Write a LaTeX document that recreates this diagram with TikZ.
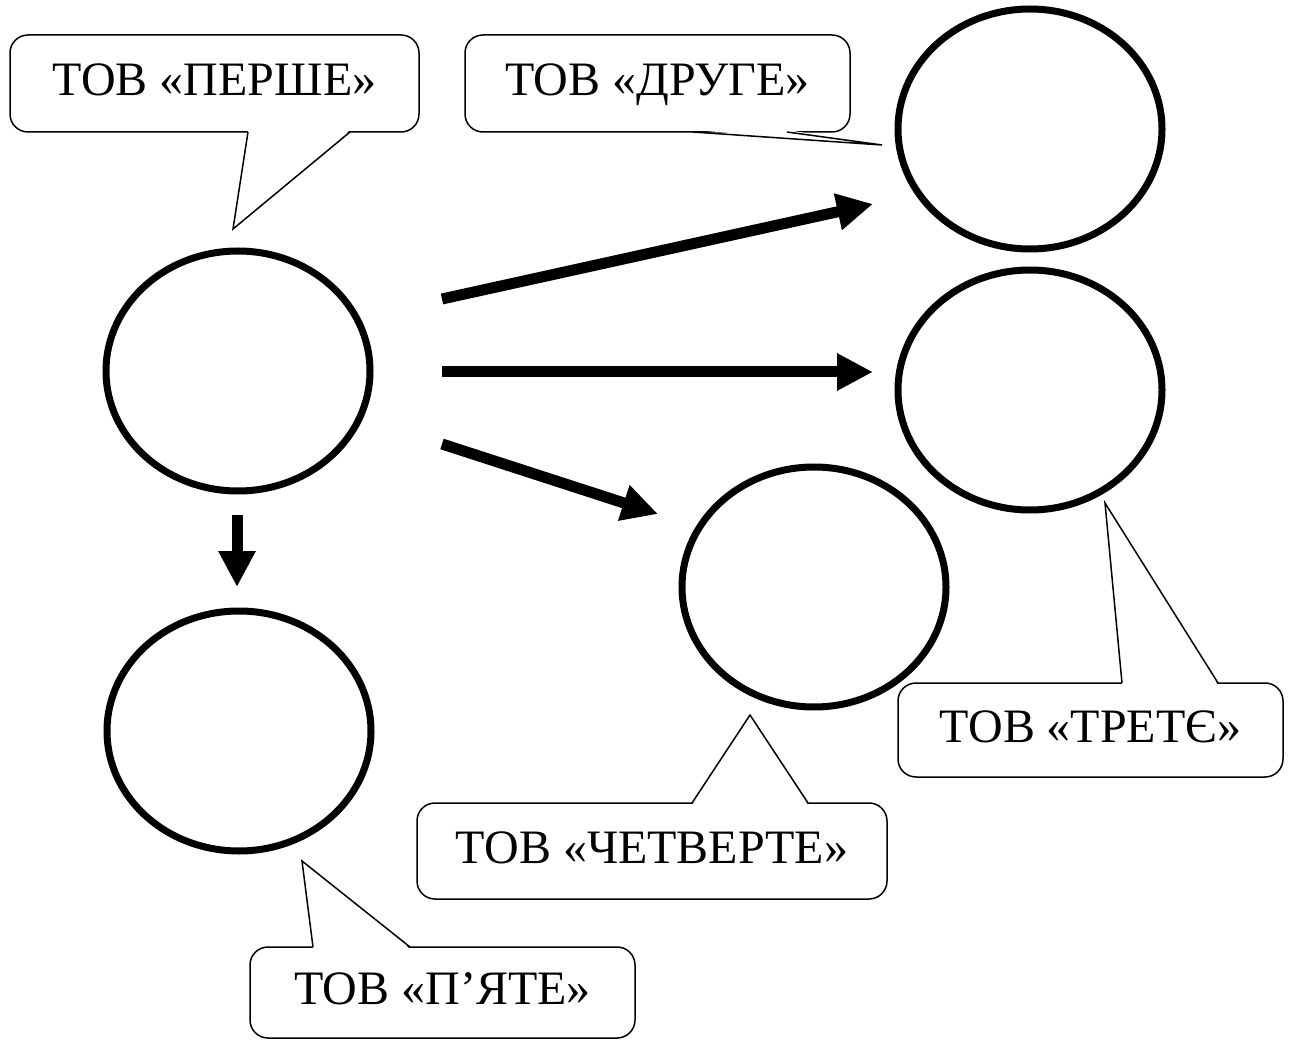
\documentclass[tikz,border=0pt]{standalone}
\usepackage{fontspec}
\setmainfont{Liberation Serif}
\usetikzlibrary{arrows.meta,shapes.geometric}

\tikzset{
  firm/.style={draw, ellipse, line width=7pt, minimum width=264pt, minimum height=240pt, inner sep=0pt},
  callout/.style={draw, rectangle, rounded corners=18pt, line width=1.5pt, minimum height=96pt,
    inner sep=0pt, outer sep=0pt, text height=34pt, text depth=10pt, font=\fontsize{48}{56}\selectfont},
  flow/.style={line width=11pt, -{Triangle[length=36pt,width=35pt]}},
  wedgeline/.style={line width=1.5pt, line join=miter},
}

\begin{document}
\begin{tikzpicture}[x=1pt,y=-1pt]
  \useasboundingbox (0,0) rectangle (1294,1040);

  % firms
  \node[firm] (c1) at (238,371) {};
  \node[firm] (c2) at (1030,129) {};
  \node[firm] (c3) at (1030,390) {};
  \node[firm] (c4) at (814,587) {};
  \node[firm] (c5) at (239,731) {};

  % callouts
  \node[callout, minimum width=409pt, minimum height=97pt] (p1) at (214.5,83.5) {ТОВ «ПЕРШЕ»};
  \node[callout, minimum width=385pt, minimum height=97pt] (p2) at (657.5,83.5) {ТОВ «ДРУГЕ»};
  \node[callout, minimum width=385pt, minimum height=94pt] (p3) at (1090.5,730) {ТОВ «ТРЕТЄ»};
  \node[callout, minimum width=470pt] (p4) at (652,851) {ТОВ «ЧЕТВЕРТЕ»};
  \node[callout, minimum width=385pt, minimum height=91pt] (p5) at (442.5,992.5) {ТОВ «П’ЯТЕ»};

  % pointers of the callouts
  \coordinate (t1) at (233,229);
  \coordinate (t2) at (882,145);
  \coordinate (t3) at (1105,503);
  \coordinate (t4) at (750,715);
  \coordinate (t5) at (302,861);
  \fill[white] (248,130) -- (t1) -- (350,130) -- cycle;
  \draw[wedgeline] (248,132) -- (t1) -- (350,132);
  \fill[white] (693,130) -- (t2) -- (787,130) -- cycle;
  \draw[wedgeline] (693,132) -- (t2) -- (787,132);
  \fill[white] (1122,685) -- (t3) -- (1218,685) -- cycle;
  \draw[wedgeline] (1122,683) -- (t3) -- (1218,683);
  \fill[white] (692,805) -- (t4) -- (808,805) -- cycle;
  \draw[wedgeline] (692,803) -- (t4) -- (808,803);
  \fill[white] (313,949) -- (t5) -- (410,949) -- cycle;
  \draw[wedgeline] (313,947) -- (t5) -- (410,947);

  % arrows
  \coordinate (a1s) at (442,299);
  \coordinate (a1e) at (873,204);
  \coordinate (a2s) at (442,372);
  \coordinate (a2e) at (873,372);
  \coordinate (a3s) at (442,444);
  \coordinate (a3e) at (658,514);
  \coordinate (a4s) at (237,515);
  \coordinate (a4e) at (237,587);
  \draw[flow] (a1s) -- (a1e);
  \draw[flow] (a2s) -- (a2e);
  \draw[flow] (a3s) -- (a3e);
  \draw[flow] (a4s) -- (a4e);
\end{tikzpicture}
\end{document}
